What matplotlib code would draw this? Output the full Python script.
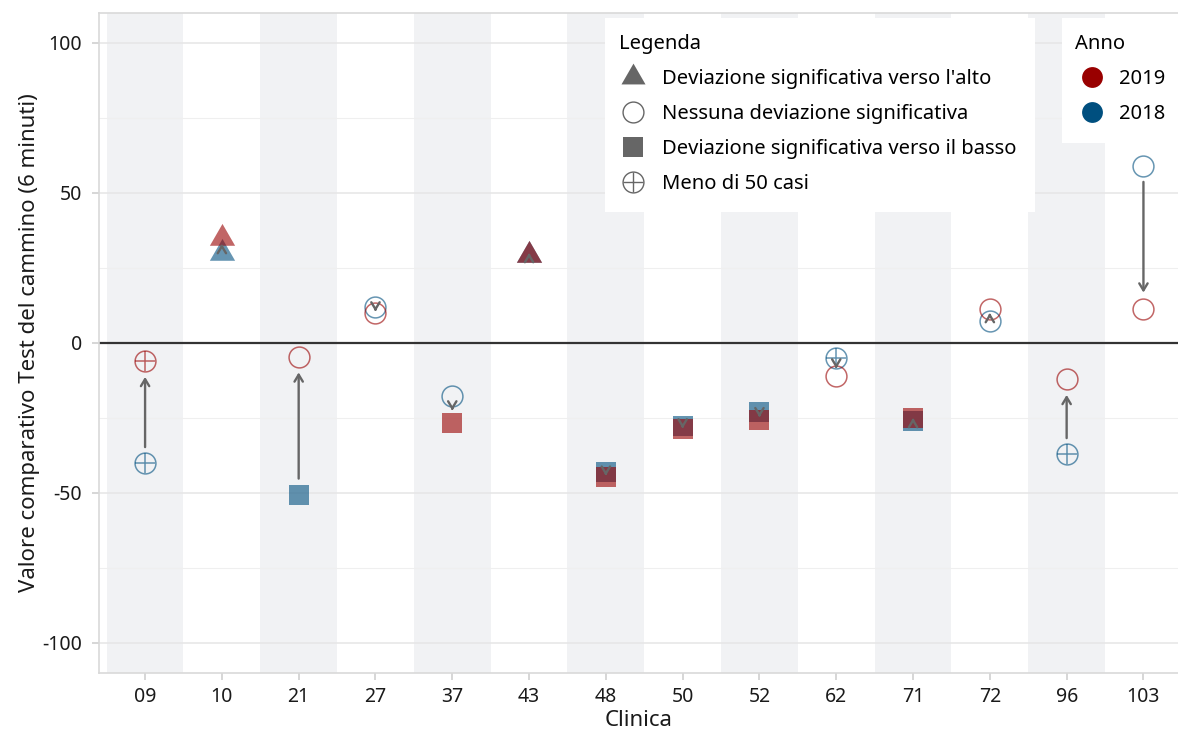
import numpy as np
import matplotlib
matplotlib.use("Agg")
import matplotlib.pyplot as plt
from matplotlib.lines import Line2D
from matplotlib.patches import Rectangle

plt.rcParams['font.family'] = ['Noto Sans', 'DejaVu Sans']
plt.rcParams['axes.unicode_minus'] = False

# --- data -----------------------------------------------------------------
clinics = ['09', '10', '21', '27', '37', '43', '48', '50', '52', '62', '71', '72', '96', '103']
val_2019 = [-6, 35, -4.5, 10, -26.5, 29.5, -44.5, -28.5, -25.5, -11, -25, 11.5, -12, 11.5]
val_2018 = [-40, 30, -50.5, 12, -17.5, 29.5, -43, -27.5, -23, -5, -26, 7.5, -37, 59]
# status: up / none / down / few
stat_2019 = ['few', 'up', 'none', 'none', 'down', 'up', 'down', 'down', 'down',
             'none', 'down', 'none', 'none', 'none']
stat_2018 = ['few', 'up', 'down', 'none', 'none', 'up', 'down', 'down', 'down',
             'few', 'down', 'none', 'few', 'none']

legend_labels = ["Deviazione significativa verso l'alto",
                 "Nessuna deviazione significativa",
                 "Deviazione significativa verso il basso",
                 "Meno di 50 casi"]
years = ['2019', '2018']

RED = '#990000'
BLUE = '#004f7f'
GREY = '#666666'
ALPHA = 0.6
W, H = 1178, 731
TRI = [(-1, -0.577), (1, -0.577), (0, 1.155)]   # equilateral, centred on centroid


def draw_point(ax, x, y, status, color):
    if status == 'up':
        ax.plot(x, y, marker=TRI, ms=21, color=color, alpha=ALPHA, mew=0, ls='none', zorder=3)
    elif status == 'down':
        ax.plot(x, y, marker='s', ms=14.5, color=color, alpha=ALPHA, mew=0, ls='none', zorder=3)
    elif status == 'none':
        ax.plot(x, y, marker='o', ms=15, mfc='none', mec=color, alpha=ALPHA, mew=1.1,
                ls='none', zorder=3)
    else:
        ax.plot(x, y, marker='o', ms=15, mfc='none', mec=color, alpha=ALPHA, mew=1.1,
                ls='none', zorder=3)
        ax.plot(x, y, marker='+', ms=15, mec=color, alpha=ALPHA, mew=1.1, ls='none', zorder=3)


fig = plt.figure(figsize=(W / 100, H / 100), dpi=100)
ax = fig.add_axes([99 / W, 58 / H, 1 - 99 / W, 660 / H])

xs = np.arange(len(clinics))
ax.set_xlim(-0.6, 13.45)
ax.set_ylim(-110, 110)

# alternating background bands
for i in xs[::2]:
    ax.axvspan(i - 0.5, i + 0.5, color='#f1f2f4', lw=0, zorder=0)

ax.set_yticks([-100, -50, 0, 50, 100])
ax.set_yticks([-75, -25, 25, 75], minor=True)
ax.grid(axis='y', which='major', color='#e6e6e6', lw=1.1, zorder=1)
ax.grid(axis='y', which='minor', color='#efefef', lw=0.8, zorder=1)
ax.axhline(0, color='#333333', lw=1.6, zorder=2)

for i in xs:
    draw_point(ax, i, val_2018[i], stat_2018[i], BLUE)
    draw_point(ax, i, val_2019[i], stat_2019[i], RED)

# arrows 2018 -> 2019
s = 5.3
for i in xs:
    y0, y1 = val_2018[i], val_2019[i]
    sgn = 1 if y1 >= y0 else -1
    start, end = y0 + sgn * s, y1 - sgn * s
    if (end - start) * sgn < 1:
        mid = (y0 + y1) / 2
        start, end = mid - sgn * 0.5, mid + sgn * 0.5
    ax.annotate('', xy=(i, end), xytext=(i, start),
                arrowprops=dict(arrowstyle='->,head_length=0.5,head_width=0.3',
                                color=GREY, lw=1.7, shrinkA=0, shrinkB=0),
                zorder=4)

ax.set_xticks(xs)
ax.set_xticklabels(clinics)
ax.tick_params(axis='both', which='major', labelsize=14, color='#d0d0d0',
               length=5, width=1.2, labelcolor='#1a1a1a')
ax.tick_params(axis='y', which='major', pad=7)
ax.tick_params(axis='x', which='major', pad=5)
ax.tick_params(axis='y', which='minor', length=0)
for side in ('left', 'bottom', 'top'):
    ax.spines[side].set_color('#d9d9d9')
    ax.spines[side].set_linewidth(1.2)
ax.spines['right'].set_visible(False)

ax.set_xlabel('Clinica', fontsize=16, labelpad=2, color='#1a1a1a')
ax.set_ylabel('Valore comparativo Test del cammino (6 minuti)', fontsize=16,
              labelpad=2, color='#1a1a1a')

# legend backgrounds (white panels as in the original)
for (x0, y0, x1, y1) in [(605, 18, 1035, 212), (1062, 18, 1190, 143)]:
    ax.add_patch(Rectangle((x0 / W, 1 - y1 / H), (x1 - x0) / W, (y1 - y0) / H,
                           transform=fig.transFigure, facecolor='white',
                           edgecolor='none', zorder=4.5, clip_on=False))

shape_handles = [
    Line2D([], [], marker=TRI, ms=20, color=GREY, mew=0, ls='none'),
    Line2D([], [], marker='o', ms=15, mfc='none', mec=GREY, mew=1, ls='none'),
    Line2D([], [], marker='s', ms=14, color=GREY, mew=0, ls='none'),
    (Line2D([], [], marker='o', ms=15, mfc='none', mec=GREY, mew=1, ls='none'),
     Line2D([], [], marker='+', ms=15, mec=GREY, mew=1, ls='none')),
]
leg_kw = dict(loc='upper left', fontsize=14.5, title_fontsize=14.5, frameon=False,
              borderpad=0, borderaxespad=0, labelspacing=0.74,
              bbox_transform=fig.transFigure)
leg1 = ax.legend(shape_handles, legend_labels, title='Legenda',
                 bbox_to_anchor=(619 / W, 1 - 34 / H),
                 handlelength=1.4, handletextpad=0.75, **leg_kw)
leg1._legend_box.align = 'left'
leg1.set_zorder(5)
ax.add_artist(leg1)

year_handles = [Line2D([], [], marker='o', ms=15, color=RED, mew=0, ls='none'),
                Line2D([], [], marker='o', ms=15, color=BLUE, mew=0, ls='none')]
leg2 = ax.legend(year_handles, years, title='Anno',
                 bbox_to_anchor=(1075 / W, 1 - 34 / H),
                 handlelength=1.7, handletextpad=0.5, **leg_kw)
leg2._legend_box.align = 'left'
leg2.set_zorder(5)

fig.savefig('out.png', dpi=100)
